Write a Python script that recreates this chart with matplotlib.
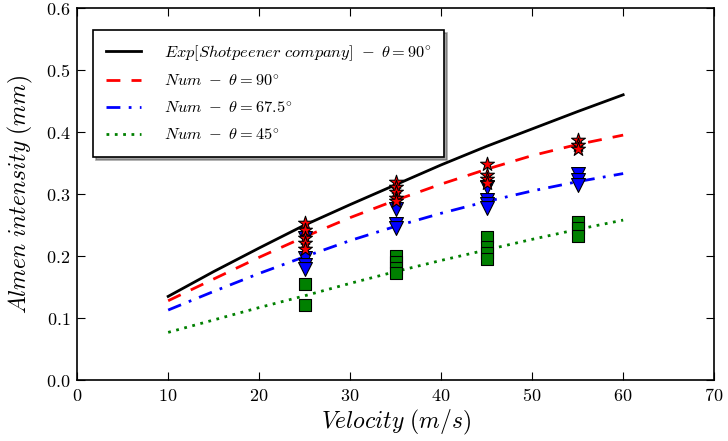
import matplotlib
matplotlib.use("Agg")
import matplotlib.pyplot as plt
from matplotlib.ticker import FuncFormatter

plt.rcParams['mathtext.fontset'] = 'cm'
plt.rcParams['font.family'] = 'DejaVu Serif'

# Curves
v_line = [10, 15, 20, 25, 30, 35, 40, 45, 50, 55, 60]
exp_90 = [0.135, 0.175, 0.213, 0.250, 0.283, 0.315, 0.347, 0.377, 0.405, 0.433, 0.460]
num_90 = [0.128, 0.163, 0.198, 0.231, 0.262, 0.290, 0.316, 0.340, 0.362, 0.380, 0.395]
num_675 = [0.113, 0.143, 0.172, 0.199, 0.225, 0.248, 0.269, 0.288, 0.305, 0.320, 0.333]
num_45 = [0.077, 0.097, 0.117, 0.136, 0.156, 0.175, 0.193, 0.210, 0.227, 0.243, 0.258]

# Scatter points
star_v = [25, 25, 25, 25, 25, 35, 35, 35, 35, 35, 45, 45, 45, 45, 55, 55, 55]
star_y = [0.254, 0.242, 0.229, 0.221, 0.211, 0.320, 0.312, 0.304, 0.293, 0.288,
          0.348, 0.331, 0.324, 0.318, 0.387, 0.379, 0.373]
tri_v = [25, 25, 25, 25, 35, 35, 35, 45, 45, 45, 45, 55, 55, 55]
tri_y = [0.229, 0.197, 0.186, 0.179, 0.276, 0.252, 0.245, 0.312, 0.291, 0.284, 0.278,
         0.333, 0.323, 0.315]
sq_v = [25, 25, 35, 35, 35, 35, 45, 45, 45, 45, 55, 55, 55]
sq_y = [0.155, 0.121, 0.200, 0.190, 0.180, 0.172, 0.230, 0.215, 0.205, 0.195,
        0.255, 0.245, 0.233]

fig = plt.figure(figsize=(7.28, 4.41), dpi=100)
ax = fig.add_axes([0.106, 0.138, 0.875, 0.844])

l1, = ax.plot(v_line, exp_90, color='k', lw=2, ls='-',
              label=r'$Exp[Shotpeener\ company]\ -\ \theta=90^{\circ}$')
l2, = ax.plot(v_line, num_90, color='r', lw=2, ls=(0, (5, 4)),
              label=r'$Num\ -\ \theta=90^{\circ}$')
l3, = ax.plot(v_line, num_675, color='b', lw=2, ls=(0, (5, 3, 1, 3)),
              label=r'$Num\ -\ \theta=67.5^{\circ}$')
l4, = ax.plot(v_line, num_45, color='g', lw=2, ls=(0, (1, 2)),
              label=r'$Num\ -\ \theta=45^{\circ}$')

ax.scatter(sq_v, sq_y, marker='s', s=70, c='g', edgecolors='k', linewidths=0.8, zorder=3)
ax.scatter(tri_v, tri_y, marker='v', s=100, c='b', edgecolors='k', linewidths=0.8, zorder=4)
ax.scatter(star_v, star_y, marker='*', s=110, c='r', edgecolors='k', linewidths=0.8, zorder=5)

ax.set_xlim(0, 70)
ax.set_ylim(0, 0.6)
ax.set_xticks(range(0, 71, 10))
ax.set_yticks([0.0, 0.1, 0.2, 0.3, 0.4, 0.5, 0.6])
ax.xaxis.set_major_formatter(FuncFormatter(lambda x, p: r'$%d$' % x))
ax.yaxis.set_major_formatter(FuncFormatter(lambda y, p: r'$%.1f$' % y))
ax.tick_params(direction='in', top=True, right=True, length=6, labelsize=13, pad=5)
for s in ax.spines.values():
    s.set_linewidth(1.2)

ax.set_xlabel(r'$Velocity\ (m/s)$', fontsize=17, labelpad=2)
ax.set_ylabel(r'$Almen\ intensity\ (mm)$', fontsize=17, labelpad=8)

leg = ax.legend(handles=[l1, l2, l3, l4], loc='upper left', bbox_to_anchor=(0.025, 0.941),
                borderaxespad=0,
                fontsize=11.8, shadow=True, fancybox=False, handlelength=2.1,
                borderpad=0.8, labelspacing=0.62, handletextpad=1.4, framealpha=1)
leg.get_frame().set_edgecolor('k')
leg.get_frame().set_linewidth(1.2)

fig.savefig('out.png', dpi=100)
